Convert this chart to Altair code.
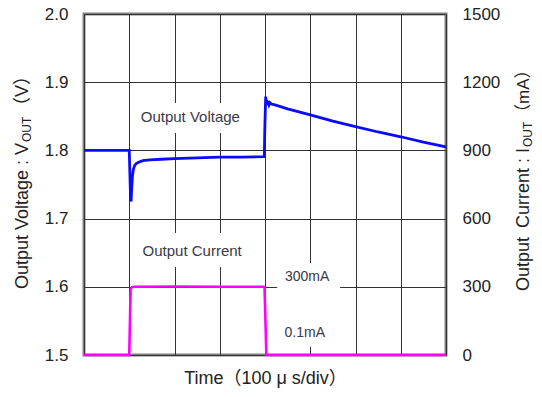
import altair as alt
import pandas as pd

# ---- data (time in divisions of 100 us) ----
time_v = [0, 1.0, 1.01, 1.025, 1.04, 1.055, 1.07, 1.09, 1.12, 1.16, 1.22, 1.3, 1.45,
          1.7, 2.0, 2.5, 3.0, 3.5, 3.985, 3.995, 4.015, 4.025, 4.04, 4.055, 4.07,
          4.09, 4.11, 4.14, 4.2, 4.5, 5.0, 5.5, 6.0, 6.5, 7.0, 7.5, 8.0]
volt = [1.800, 1.800, 1.775, 1.740, 1.725, 1.745, 1.762, 1.772, 1.778, 1.781, 1.783,
        1.785, 1.786, 1.787, 1.788, 1.789, 1.790, 1.790, 1.791, 1.830, 1.879, 1.866,
        1.874, 1.867, 1.872, 1.867, 1.870, 1.868, 1.867, 1.861, 1.852, 1.843, 1.835,
        1.827, 1.820, 1.812, 1.805]

time_i = [0, 1.0, 1.03, 1.06, 1.12, 2.0, 3.0, 3.96, 3.99, 4.03, 4.05, 8.0]
curr = [0, 0, 290, 298, 300, 301, 300, 300, 298, 0, 0, 0]

v_ticks = [1.5, 1.6, 1.7, 1.8, 1.9, 2.0]
i_ticks = [0, 300, 600, 900, 1200, 1500]
t_ticks = [0, 1, 2, 3, 4, 5, 6, 7, 8]

# annotation labels (in data coordinates)
label_text = ["Output Voltage", "Output Current"]
label_t = [2.35, 2.39]
label_v = [1.849, 1.652]
ma_text = ["300mA", "0.1mA"]
ma_t = [4.93, 4.88]
ma_v = [1.614, 1.532]

# white boxes behind the labels (in data coordinates)
box_t0 = [1.13, 1.13, 4.27]
box_t1 = [3.56, 3.67, 5.66]
box_v0 = [1.8255, 1.629, 1.512]
box_v1 = [1.8695, 1.679, 1.635]

W, H = 362, 341
FONT = "Liberation Sans, Noto Sans CJK JP"
TXT = "#222222"

xs = alt.Scale(domain=[0, 8], nice=False, zero=False)
vs = alt.Scale(domain=[1.5, 2.0], nice=False, zero=False)
cs = alt.Scale(domain=[0, 1500], nice=False)

dv = pd.DataFrame({"t": time_v, "v": volt})
di = pd.DataFrame({"t": time_i, "i": curr})
dl = pd.DataFrame({"t": label_t, "v": label_v, "txt": label_text})
dm = pd.DataFrame({"t": ma_t, "v": ma_v, "txt": ma_text})
db = pd.DataFrame({"t0": box_t0, "t1": box_t1, "v0": box_v0, "v1": box_v1})

xaxis = alt.Axis(values=t_ticks, labels=False, ticks=False, domain=False, grid=True,
                 gridColor="#333333", gridWidth=1, title="Time（100 μ s/div）",
                 titleFont=FONT, titleFontSize=18, titleFontWeight="normal",
                 titleColor=TXT, titlePadding=14)

vline = alt.Chart(dv).mark_line(color="#0a0aff", strokeWidth=2.8).encode(
    x=alt.X("t:Q", scale=xs, axis=xaxis),
    y=alt.Y("v:Q", scale=vs, axis=alt.Axis(values=v_ticks, format=".1f", ticks=False,
            domain=False, grid=True, gridColor="#333333", gridWidth=1, title=None,
            labelFont=FONT, labelFontSize=17, labelColor=TXT, labelPadding=16)),
)

boxes = alt.Chart(db).mark_rect(color="white").encode(
    x=alt.X("t0:Q", scale=xs), x2="t1:Q",
    y=alt.Y("v0:Q", scale=vs), y2="v1:Q",
)

labels = alt.Chart(dl).mark_text(font=FONT, fontSize=15, color="#3a3a48").encode(
    x=alt.X("t:Q", scale=xs), y=alt.Y("v:Q", scale=vs), text="txt:N")
malabels = alt.Chart(dm).mark_text(font=FONT, fontSize=14, color="#3a3a48").encode(
    x=alt.X("t:Q", scale=xs), y=alt.Y("v:Q", scale=vs), text="txt:N")

left = alt.layer(boxes, labels, malabels, vline)

iline = alt.Chart(di).mark_line(color="#ff00ff", strokeWidth=2.6).encode(
    x=alt.X("t:Q", scale=xs),
    y=alt.Y("i:Q", scale=cs, axis=alt.Axis(orient="right", values=i_ticks, format="d",
            ticks=False, domain=False, grid=False, title=None, labelFont=FONT,
            labelFontSize=17, labelColor=TXT, labelPadding=16)),
)

one = pd.DataFrame({"a": [0]})


def piece(text, x, y, size, align):
    return alt.Chart(one).mark_text(text=text, angle=270, align=align, baseline="middle",
                                    fontSize=size, font=FONT, color=TXT).encode(
        x=alt.value(x), y=alt.value(y))


titles = alt.layer(
    piece("Output Voltage : V", -61, 129, 18, "right"),
    piece("OUT", -57, 128, 12, "left"),
    piece("（V）", -61, 101, 18, "left"),
    piece("Output\u2002Current : I", 440, 134, 18, "right"),
    piece("OUT", 444, 133, 12, "left"),
    piece("（mA）", 440, 107, 17, "left"),
)

chart = alt.layer(left, iline).resolve_scale(y="independent")
chart = alt.layer(chart, titles).properties(
    width=W, height=H,
    padding={"left": 76, "top": 6, "right": 88, "bottom": 34},
    autosize=alt.AutoSizeParams(type="none"),
).configure_view(stroke="#808080", strokeWidth=3)

chart.save("out.html", embed_options={"renderer": "svg", "actions": False})
